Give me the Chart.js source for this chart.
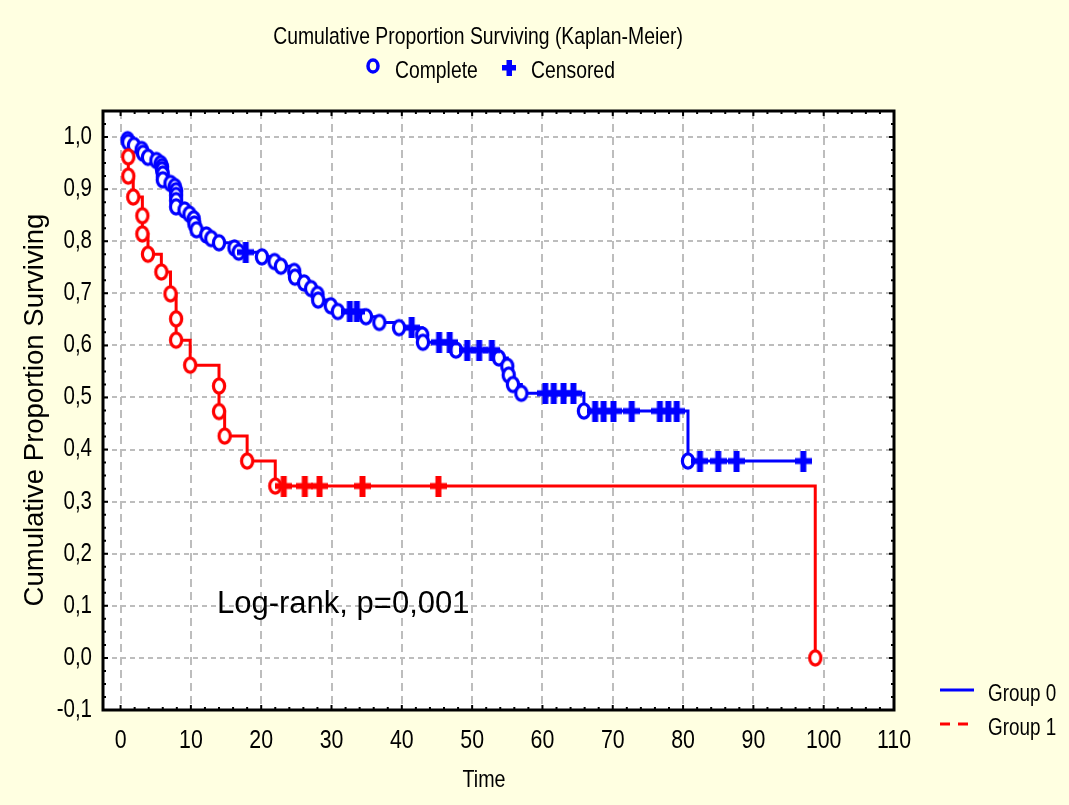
<!DOCTYPE html>
<html>
<head>
<meta charset="utf-8">
<script src="https://cdn.jsdelivr.net/npm/chart.js@4"></script>
<style>
  html, body { margin: 0; padding: 0; background: #ffffe1; }
  canvas { display: block; }
</style>
</head>
<body>
<canvas id="km" width="1069" height="805"></canvas>
<script>
// Group 0 (blue): time, survival, censored flag (1 = censored)
const g0Time = [1.0, 1.1, 1.9, 3.0, 3.2, 3.9, 5.1, 5.7, 5.9, 5.9, 6.0, 6.0, 7.1, 7.7, 7.9, 7.9, 7.9, 7.9,
  9.1, 9.8, 10.4, 10.5, 10.8, 12.2, 12.9, 14.0, 16.2, 16.8, 17.8, 20.1, 21.9, 22.8, 24.7, 24.8, 26.1,
  27.1, 28.0, 28.1, 29.9, 30.9, 32.6, 33.6, 34.9, 36.8, 39.6, 41.4, 42.9, 43.0, 45.3, 46.8, 47.7, 49.3,
  51.0, 52.8, 53.8, 55.0, 55.2, 55.8, 57.0, 60.4, 61.6, 63.0, 64.4, 65.9, 67.5, 68.7, 70.1, 72.7, 76.7,
  77.9, 79.1, 80.7, 82.4, 85.0, 87.6, 97.1];
const g0Surv = [0.995, 0.990, 0.984, 0.976, 0.969, 0.961, 0.955, 0.949, 0.943, 0.937, 0.929, 0.918, 0.911,
  0.905, 0.897, 0.888, 0.878, 0.866, 0.860, 0.852, 0.843, 0.833, 0.822, 0.812, 0.805, 0.797, 0.787, 0.779,
  0.779, 0.770, 0.761, 0.752, 0.742, 0.731, 0.720, 0.709, 0.698, 0.687, 0.676, 0.665, 0.665, 0.665, 0.655,
  0.644, 0.634, 0.634, 0.620, 0.606, 0.606, 0.606, 0.591, 0.591, 0.591, 0.591, 0.576, 0.560, 0.543, 0.525,
  0.508, 0.508, 0.508, 0.508, 0.508, 0.474, 0.474, 0.474, 0.474, 0.474, 0.474, 0.474, 0.474, 0.378, 0.378,
  0.378, 0.378, 0.378];
const g0Cens = [0, 0, 0, 0, 0, 0, 0, 0, 0, 0, 0, 0, 0, 0, 0, 0, 0, 0,
  0, 0, 0, 0, 0, 0, 0, 0, 0, 0, 1, 0, 0, 0, 0, 0, 0,
  0, 0, 0, 0, 0, 1, 1, 0, 0, 0, 1, 0, 0, 1, 1, 0, 1,
  1, 1, 0, 0, 0, 0, 0, 1, 1, 1, 1, 0, 1, 1, 1, 1, 1,
  1, 1, 0, 1, 1, 1, 1];

// Group 1 (red)
const g1Time = [1.1, 1.1, 1.8, 3.1, 3.1, 3.9, 5.8, 7.1, 7.9, 7.9, 9.9, 14.0, 14.0, 14.8, 18.0, 22.0,
  23.2, 26.2, 28.3, 34.4, 45.2, 98.8];
const g1Surv = [0.962, 0.925, 0.885, 0.849, 0.814, 0.775, 0.741, 0.699, 0.651, 0.610, 0.562, 0.522, 0.473,
  0.426, 0.378, 0.330, 0.330, 0.330, 0.330, 0.330, 0.330, 0.0];
const g1Cens = [0, 0, 0, 0, 0, 0, 0, 0, 0, 0, 0, 0, 0, 0, 0, 0, 1, 1, 1, 1, 1, 0];

const xTicks = [0, 10, 20, 30, 40, 50, 60, 70, 80, 90, 100, 110];
const yTicks = [-0.1, 0, 0.1, 0.2, 0.3, 0.4, 0.5, 0.6, 0.7, 0.8, 0.9, 1.0];

const SANS = '"Liberation Sans", Arial, sans-serif';
const BLUE = '#0000ff';
const RED = '#ff0000';

// marker images (the reference markers are a bit taller than wide)
function makeCircle(color) {
    const c = document.createElement('canvas');
    c.width = 18; c.height = 22;
    const g = c.getContext('2d');
    g.beginPath();
    g.ellipse(9, 11, 5.6, 7.2, 0, 0, Math.PI * 2);
    g.fillStyle = '#fff';
    g.fill();
    g.lineWidth = 3.2;
    g.strokeStyle = color;
    g.stroke();
    return c;
}

function makePlus(color) {
    const c = document.createElement('canvas');
    c.width = 17; c.height = 21;
    const g = c.getContext('2d');
    g.fillStyle = color;
    g.fillRect(0, 7.5, 17, 6);
    g.fillRect(5.5, 0, 6, 21);
    return c;
}

function pts(time, surv, cens, want) {
    const out = [];
    time.forEach((t, i) => {
        if (want === undefined || cens[i] === want) out.push({ x: t, y: surv[i] });
    });
    return out;
}

// Helvetica Narrow look: Liberation Sans squeezed horizontally
function narrow(ctx, text, x, y, size, align) {
    ctx.save();
    ctx.translate(x, y);
    ctx.scale(0.82, 1);
    ctx.font = size + 'px ' + SANS;
    ctx.textAlign = align;
    ctx.fillText(text, 0, 0);
    ctx.restore();
}

const decor = {
    id: 'decor',
    beforeDraw(chart) {
        const ctx = chart.ctx;
        const a = chart.chartArea;
        ctx.save();
        ctx.fillStyle = '#ffffe1';
        ctx.fillRect(0, 0, chart.width, chart.height);
        ctx.fillStyle = '#fff';
        ctx.fillRect(a.left, a.top, a.right - a.left, a.bottom - a.top);
        ctx.restore();
    },
    afterDraw(chart) {
        const ctx = chart.ctx;
        const a = chart.chartArea;
        const xs = chart.scales.x, ys = chart.scales.y;
        ctx.save();

        // tick marks on all four sides, pointing inward
        ctx.strokeStyle = '#000';
        ctx.lineWidth = 2;
        ctx.beginPath();
        for (let v = 0; v <= 110; v += 2) {
            const px = xs.getPixelForValue(v);
            const len = v % 10 === 0 ? 5 : 3;
            ctx.moveTo(px, a.bottom); ctx.lineTo(px, a.bottom - len);
            ctx.moveTo(px, a.top); ctx.lineTo(px, a.top + len);
        }
        for (let k = -4; k <= 42; k++) {
            const py = ys.getPixelForValue(k * 0.025);
            if (py < a.top + 1 || py > a.bottom - 1) continue;
            const len = k % 4 === 0 ? 5 : 3;
            ctx.moveTo(a.left, py); ctx.lineTo(a.left + len, py);
            ctx.moveTo(a.right, py); ctx.lineTo(a.right - len, py);
        }
        ctx.stroke();

        // frame
        ctx.lineWidth = 3;
        ctx.strokeRect(a.left, a.top, a.right - a.left, a.bottom - a.top);

        // tick labels
        ctx.fillStyle = '#000';
        ctx.textBaseline = 'middle';
        xTicks.forEach(v => narrow(ctx, String(v), xs.getPixelForValue(v), 741, 26, 'center'));
        yTicks.forEach(v => narrow(ctx, v.toFixed(1).replace('.', ','), 92, ys.getPixelForValue(v), 25, 'right'));

        // header legend
        narrow(ctx, 'Cumulative Proportion Surviving (Kaplan-Meier)', 478, 37, 23.6, 'center');
        ctx.beginPath();
        ctx.ellipse(373, 66, 5, 6, 0, 0, Math.PI * 2);
        ctx.lineWidth = 3.5;
        ctx.strokeStyle = BLUE;
        ctx.stroke();
        ctx.fillStyle = BLUE;
        ctx.fillRect(502, 65, 14, 5.5);
        ctx.fillRect(506.5, 60, 5.5, 16);
        ctx.fillStyle = '#000';
        narrow(ctx, 'Complete', 395, 71, 23.6, 'left');
        narrow(ctx, 'Censored', 531, 71, 23.6, 'left');

        // axis titles
        narrow(ctx, 'Time', 484, 780, 24, 'center');
        ctx.save();
        ctx.translate(35, 410);
        ctx.rotate(-Math.PI / 2);
        ctx.font = '27.5px ' + SANS;
        ctx.textAlign = 'center';
        ctx.fillText('Cumulative Proportion Surviving', 0, 0);
        ctx.restore();

        // annotation
        ctx.textAlign = 'left';
        ctx.textBaseline = 'alphabetic';
        ctx.font = '31px ' + SANS;
        ctx.fillText('Log-rank, p=0,001', 217, 613);

        // group legend
        ctx.lineWidth = 3;
        ctx.strokeStyle = BLUE;
        ctx.beginPath();
        ctx.moveTo(940, 690); ctx.lineTo(974, 690);
        ctx.stroke();
        ctx.strokeStyle = RED;
        ctx.setLineDash([10, 8]);
        ctx.beginPath();
        ctx.moveTo(940, 724); ctx.lineTo(976, 724);
        ctx.stroke();
        ctx.setLineDash([]);
        ctx.textBaseline = 'middle';
        narrow(ctx, 'Group 0', 988, 695, 23, 'left');
        narrow(ctx, 'Group 1', 988, 729, 23, 'left');

        ctx.restore();
    }
};

const circleBlue = makeCircle(BLUE), circleRed = makeCircle(RED);
const plusBlue = makePlus(BLUE), plusRed = makePlus(RED);

const markerSet = (data, style) => ({
    data: data,
    showLine: false,
    pointStyle: style,
    pointRadius: 8,
    pointHoverRadius: 8,
    order: 1
});

const lineSet = (data, color) => ({
    data: data,
    borderColor: color,
    borderWidth: 3,
    stepped: true,
    pointRadius: 0,
    fill: false,
    order: 2
});

new Chart(document.getElementById('km'), {
    type: 'line',
    data: {
        datasets: [
            markerSet(pts(g1Time, g1Surv, g1Cens, 1), plusRed),
            markerSet(pts(g1Time, g1Surv, g1Cens, 0), circleRed),
            markerSet(pts(g0Time, g0Surv, g0Cens, 1), plusBlue),
            markerSet(pts(g0Time, g0Surv, g0Cens, 0), circleBlue),
            lineSet(pts(g1Time, g1Surv, g1Cens), RED),
            lineSet(pts(g0Time, g0Surv, g0Cens), BLUE)
        ]
    },
    options: {
        responsive: false,
        animation: false,
        devicePixelRatio: 1,
        layout: { padding: { top: 111, right: 175, left: 0, bottom: 0 } },
        plugins: {
            legend: { display: false },
            tooltip: { enabled: false }
        },
        scales: {
            x: {
                type: 'linear',
                min: -2.5,
                max: 110,
                afterBuildTicks: s => { s.ticks = xTicks.map(v => ({ value: v })); },
                afterFit: s => { s.height = 95; },
                grid: { color: '#bdbdbd', lineWidth: 2, drawTicks: false },
                border: { display: false, dash: [8, 5] },
                ticks: { display: false }
            },
            y: {
                type: 'linear',
                min: -0.1,
                max: 1.05,
                afterBuildTicks: s => { s.ticks = yTicks.map(v => ({ value: v })); },
                afterFit: s => { s.width = 103; },
                grid: { color: '#bdbdbd', lineWidth: 2, drawTicks: false },
                border: { display: false, dash: [5, 4] },
                ticks: { display: false }
            }
        }
    },
    plugins: [decor]
});
</script>
</body>
</html>
